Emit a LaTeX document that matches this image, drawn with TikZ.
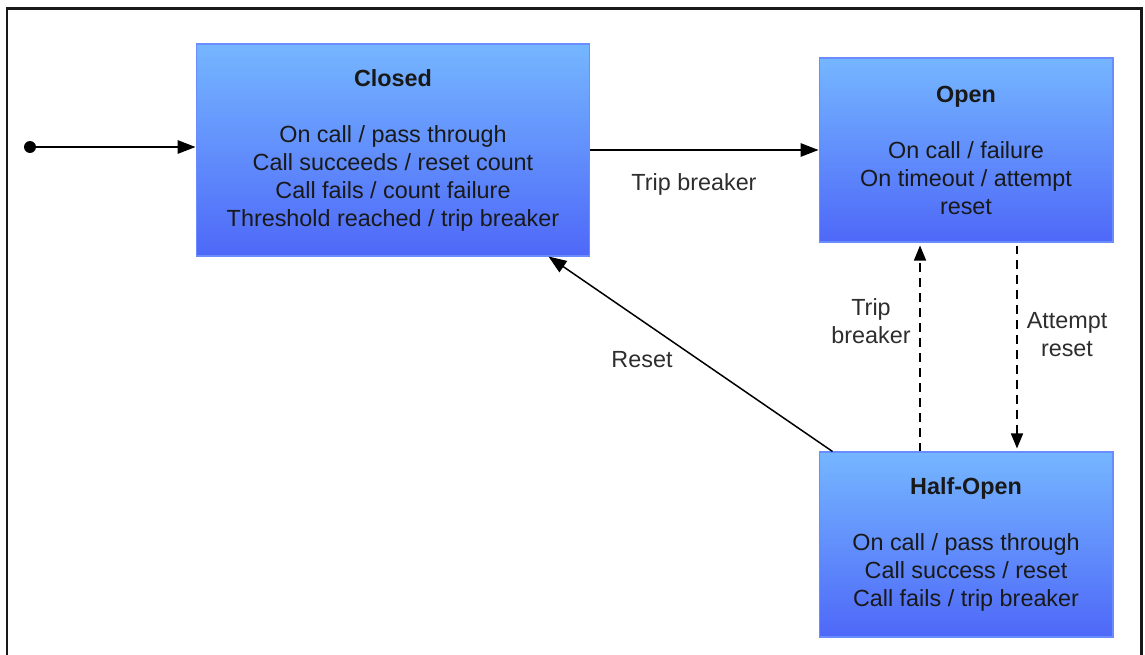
\documentclass[tikz,border=0pt]{standalone}
\usepackage{fontspec}
\setmainfont{Liberation Sans}
\usepackage{tikz}
\usetikzlibrary{positioning,arrows.meta}
\usepackage{xcolor}

\definecolor{statetop}{RGB}{117,182,255}
\definecolor{statebot}{RGB}{78,104,248}
\definecolor{stateline}{RGB}{105,140,255}
\definecolor{labeltext}{RGB}{45,45,45}

\tikzset{
    state/.style={rectangle, draw=stateline, line width=0.6pt,
        top color=statetop, bottom color=statebot,
        align=center, text=black!90, inner sep=0pt},
    edgelabel/.style={align=center, text=labeltext},
    flow/.style={line width=0.85pt, -{Triangle[length=0.36cm,width=0.27cm]}},
    dflow/.style={line width=0.85pt, dash pattern=on 5pt off 3.5pt,
        -{Triangle[length=0.30cm,width=0.24cm]}}
}

\begin{document}
\begin{tikzpicture}[x=0.02cm, y=-0.02cm,
    every node/.style={font=\fontsize{13.3pt}{15.94pt}\selectfont}]
    \useasboundingbox (0,0) rectangle (1145,655);

    % =========================================================
    % FRAME
    % =========================================================
    \draw[line width=1.7pt, black!90] (7,660) -- (7,8.5) -- (1141.5,8.5) -- (1141.5,660);

    % =========================================================
    % STATES
    % =========================================================
    \node[state, minimum width=7.88cm, minimum height=4.24cm] (closed) at (393,150)
        {\textbf{Closed}\\[15.94pt]
         On call / pass through\\
         Call succeeds / reset count\\
         Call fails / count failure\\
         Threshold reached / trip breaker};

    \node[state, minimum width=5.88cm, minimum height=3.68cm] (open) at (966,150)
        {\textbf{Open}\\[15.94pt]
         On call / failure\\
         On timeout / attempt\\
         reset};

    \node[state, minimum width=5.88cm, minimum height=3.70cm] (half) at (966,544.5)
        {\textbf{Half-Open}\\[15.94pt]
         On call / pass through\\
         Call success / reset\\
         Call fails / trip breaker};

    % =========================================================
    % TRANSITIONS
    % =========================================================
    % Initial state
    \fill[black] (30,147) circle (0.12cm);
    \coordinate (start) at (30,147);
    \draw[flow] (start) -- (closed.west |- start);

    % Closed -> Open
    \draw[flow] (closed.east) -- (open.west);
    \node[edgelabel] (tripl) at (694,184) {Trip breaker};

    % Half-Open -> Closed
    \draw[flow] ([xshift=0.28cm]half.north west) -- ([xshift=-0.84cm]closed.south east);
    \node[edgelabel] (resetl) at (642,360) {Reset};

    % Half-Open -> Open
    \draw[dflow] ([xshift=-0.92cm]half.north) -- ([xshift=-0.92cm,yshift=-0.06cm]open.south);
    \node[edgelabel] (tripl2) at (871,321) {Trip\\breaker};

    % Open -> Half-Open
    \draw[dflow] ([xshift=1.02cm,yshift=-0.06cm]open.south) -- ([xshift=1.02cm,yshift=0.06cm]half.north);
    \node[edgelabel] (attemptl) at (1067,335) {Attempt\\reset};
\end{tikzpicture}
\end{document}
